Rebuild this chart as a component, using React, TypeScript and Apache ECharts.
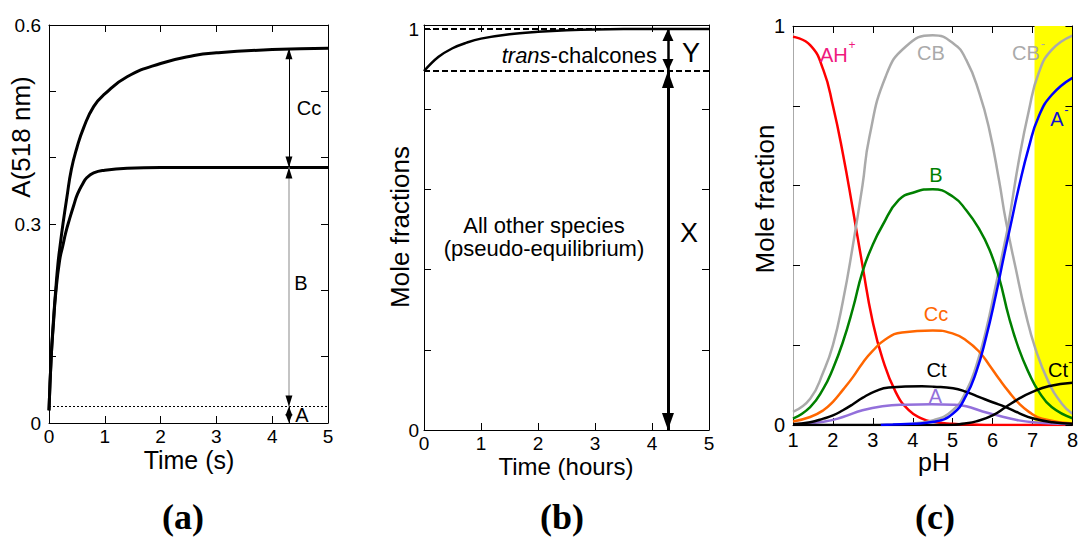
import React, { useEffect, useRef } from 'react';
import * as echarts from 'echarts';

const FONT = "'Liberation Sans', Arial, Helvetica, sans-serif";
const SERIF = "'Liberation Serif', 'Times New Roman', serif";

// ---------- Panel (a): absorbance at 518 nm vs time (s) ----------
const A_TIME_UPPER = [0, 0.04, 0.08, 0.12, 0.16, 0.2, 0.25, 0.32, 0.4, 0.5, 0.62, 0.8, 1.0, 1.4, 2.0, 2.6, 3.0, 4.0, 5.0];
const A_UPPER = [0.019, 0.1, 0.155, 0.2, 0.24, 0.268, 0.3, 0.34, 0.382, 0.415, 0.445, 0.477, 0.496, 0.522, 0.542, 0.554, 0.558, 0.563, 0.565];
const A_TIME_LOWER = [0, 0.04, 0.08, 0.12, 0.19, 0.25, 0.3, 0.37, 0.45, 0.51, 0.6, 0.68, 0.8, 1.0, 1.4, 2, 3, 4, 5];
const A_LOWER = [0.019, 0.1, 0.15, 0.195, 0.245, 0.268, 0.287, 0.308, 0.33, 0.345, 0.36, 0.37, 0.377, 0.381, 0.384, 0.385, 0.385, 0.385, 0.385];
const A_LEVEL_CC = 0.565;
const A_LEVEL_B = 0.385;
const A_LEVEL_A = 0.025;
const A_ARROW_T = 4.3;
const A_Y_LABELS = [0, 0.3, 0.6];

// ---------- Panel (b): mole fractions vs time (hours) ----------
const B_TIME = [0, 0.25, 0.5, 0.75, 1, 1.5, 2, 2.5, 3, 4, 5];
const B_FRACTION = [0.895, 0.93, 0.952, 0.966, 0.976, 0.987, 0.993, 0.997, 0.999, 1, 1];
const B_LEVEL_TOP = 1;
const B_LEVEL_PSEUDO = 0.895;
const B_ARROW_T = 4.28;
const B_Y_LABELS = [0, 1];

// ---------- Panel (c): mole fraction vs pH ----------
const C_AH = [[1, 0.973], [1.43, 0.952], [1.76, 0.89], [2.0, 0.8], [2.25, 0.68], [2.5, 0.54], [2.74, 0.4], [2.99, 0.262], [3.24, 0.167], [3.57, 0.083], [3.9, 0.037], [4.23, 0.016], [4.5, 0.008], [5.0, 0.003], [5.5, 0.001], [6, 0], [8, 0]];
const C_CB = [[1, 0.033], [1.43, 0.066], [1.76, 0.133], [2.0, 0.2], [2.25, 0.31], [2.5, 0.45], [2.74, 0.6], [2.91, 0.72], [3.32, 0.873], [3.82, 0.948], [4.5, 0.977], [5.01, 0.957], [5.34, 0.915], [5.67, 0.831], [5.92, 0.739], [6.16, 0.614], [6.33, 0.513], [6.58, 0.392], [6.82, 0.283], [7.07, 0.192], [7.4, 0.108], [7.73, 0.054], [8, 0.028]];
const C_B = [[1, 0.016], [1.43, 0.045], [1.76, 0.091], [2.0, 0.141], [2.25, 0.208], [2.5, 0.292], [2.74, 0.384], [2.99, 0.45], [3.24, 0.5], [3.65, 0.564], [4.06, 0.584], [4.5, 0.591], [5.01, 0.572], [5.34, 0.538], [5.67, 0.49], [5.92, 0.44], [6.16, 0.37], [6.41, 0.27], [6.66, 0.19], [6.91, 0.13], [7.15, 0.085], [7.48, 0.045], [8, 0.017]];
const C_CC = [[1, 0.009], [1.43, 0.02], [1.76, 0.037], [2.0, 0.058], [2.25, 0.088], [2.5, 0.12], [2.74, 0.155], [2.99, 0.185], [3.32, 0.215], [3.73, 0.232], [4.5, 0.237], [5.01, 0.229], [5.34, 0.212], [5.67, 0.183], [5.92, 0.15], [6.16, 0.116], [6.41, 0.083], [6.66, 0.054], [6.91, 0.033], [7.24, 0.016], [8, 0.004]];
const C_CT = [[1, 0.002], [1.43, 0.007], [1.76, 0.016], [2.0, 0.024], [2.25, 0.037], [2.5, 0.052], [2.74, 0.068], [3.07, 0.085], [3.4, 0.094], [4.23, 0.097], [4.52, 0.096], [5.01, 0.092], [5.34, 0.083], [5.67, 0.07], [6.0, 0.057], [6.33, 0.045], [6.66, 0.03], [7.0, 0.017], [7.5, 0.007], [8, 0.003]];
const C_A = [[1, 0.001], [1.76, 0.008], [2.25, 0.02], [2.74, 0.037], [3.24, 0.047], [3.82, 0.051], [4.47, 0.052], [5.01, 0.051], [5.34, 0.047], [5.75, 0.034], [6.16, 0.023], [6.58, 0.013], [7.0, 0.007], [8, 0.002]];
const C_A_MINUS = [[3.2, 0], [3.5, 0.001], [4.0, 0.003], [4.52, 0.008], [5.01, 0.029], [5.34, 0.074], [5.59, 0.133], [5.83, 0.217], [6.08, 0.325], [6.29, 0.426], [6.45, 0.5], [6.66, 0.597], [6.91, 0.697], [7.15, 0.772], [7.48, 0.827], [8, 0.87]];
const C_CB_MINUS = [[4.0, 0.004], [4.52, 0.012], [5.01, 0.038], [5.34, 0.085], [5.59, 0.148], [5.83, 0.235], [6.08, 0.35], [6.29, 0.45], [6.39, 0.5], [6.66, 0.664], [6.91, 0.789], [7.15, 0.881], [7.48, 0.94], [8, 0.976]];
const C_CT_MINUS = [[1, 0], [4.9, 0], [5.3, 0.004], [5.59, 0.009], [6.0, 0.024], [6.33, 0.045], [6.66, 0.066], [7.0, 0.083], [7.4, 0.097], [8, 0.106]];
const C_YELLOW_RANGE = [7.05, 8];
const C_Y_LABELS = [0, 1];

const zip = (xs: number[], ys: number[]) => xs.map((x, i) => [x, ys[i]]);

const labelFilter = (list: number[]) => (v: number) => {
  const hit = list.find((l) => Math.abs(l - v) < 1e-6);
  return hit === undefined ? '' : String(hit);
};

function xAxisPair(gridIndex: number, min: number, max: number, interval: number, fontSize: number, margin: number) {
  const base = {
    type: 'value', gridIndex, min, max, interval,
    splitLine: { show: false },
    axisLine: { show: true, onZero: false, lineStyle: { color: '#000', width: 1 } },
    axisTick: { show: true, inside: true, length: 7, lineStyle: { color: '#000', width: 1 } },
  };
  return [
    { ...base, position: 'bottom', axisLabel: { show: true, fontSize, fontFamily: FONT, color: '#000', margin } },
    { ...base, position: 'top', axisLabel: { show: false } },
  ];
}

function yAxisPair(gridIndex: number, min: number, max: number, interval: number, fontSize: number, margin: number, labels: number[], leftColor = '#000', rightZ = 0) {
  const base = {
    type: 'value', gridIndex, min, max, interval,
    splitLine: { show: false },
    axisTick: { show: true, inside: true, length: 7, lineStyle: { color: '#000', width: 1 } },
  };
  return [
    {
      ...base, position: 'left',
      axisLine: { show: true, onZero: false, lineStyle: { color: leftColor, width: 1 } },
      axisLabel: { show: true, fontSize, fontFamily: FONT, color: '#000', margin, formatter: labelFilter(labels) },
    },
    {
      ...base, position: 'right', z: rightZ,
      axisLine: { show: true, onZero: false, lineStyle: { color: '#000', width: 1 } },
      axisLabel: { show: false },
    },
  ];
}

function curve(xi: number, data: number[][], color: string, width: number, smooth: number | boolean = 0.5) {
  return {
    type: 'line', xAxisIndex: xi, yAxisIndex: xi, data, symbol: 'none', showSymbol: false,
    smooth, lineStyle: { color, width }, silent: true, animation: false, z: 3,
  };
}

function seg(x1: number, y1: number, x2: number, y2: number, color: string, width: number, s1: string, s2: string, size: number[], type: any = 'solid') {
  const ls = { color, width, type };
  return [
    { coord: [x1, y1], symbol: s1, symbolSize: size, symbolOffset: [0, size[1] / 2], lineStyle: ls },
    { coord: [x2, y2], symbol: s2, symbolSize: size, symbolOffset: [0, size[1] / 2], lineStyle: ls },
  ];
}

function txt(text: string, x: number, y: number, size: number, color = '#000', align = 'center', rotate = 0, extra: any = {}) {
  return {
    type: 'text', x, y, rotation: rotate, silent: true, z: 10,
    style: { text, fill: color, fontSize: size, fontFamily: FONT, align, verticalAlign: 'middle', ...extra },
  };
}

function buildOption() {
  const markBase = { silent: true, animation: false, label: { show: false }, emphasis: { disabled: true }, symbol: ['none', 'none'] };
  const aSmall = [7, 11];
  return {
    animation: false,
    backgroundColor: '#fff',
    grid: [
      { left: 49, top: 25, width: 279, height: 398 },
      { left: 424, top: 25, width: 285, height: 405 },
      { left: 793, top: 26, width: 283, height: 399 },
    ],
    xAxis: [
      ...xAxisPair(0, 0, 5, 1, 19, 4),
      ...xAxisPair(1, 0, 5, 1, 19, 4),
      ...xAxisPair(2, 1, 8, 1, 20, 5),
    ],
    yAxis: [
      ...yAxisPair(0, 0, 0.6, 0.1, 19, 8, A_Y_LABELS),
      ...yAxisPair(1, 0, 1.01, 0.2, 19, 5, B_Y_LABELS),
      ...yAxisPair(2, 0, 1, 0.2, 20, 8, C_Y_LABELS, '#aaaaaa', 4),
    ],
    series: [
      // panel a
      {
        ...curve(0, zip(A_TIME_UPPER, A_UPPER), '#000', 3, 0.5),
        markLine: {
          ...markBase,
          data: [
            seg(0, A_LEVEL_A, 5, A_LEVEL_A, '#000', 1, 'none', 'none', [1, 1], [2, 2]),
            seg(A_ARROW_T, A_LEVEL_CC, A_ARROW_T, A_LEVEL_B, '#000', 1, 'triangle', 'triangle', aSmall),
            seg(A_ARROW_T, A_LEVEL_B, A_ARROW_T, A_LEVEL_A, '#b0b0b0', 1.5, 'none', 'none', [1, 1]),
            seg(A_ARROW_T, 0.2, A_ARROW_T, A_LEVEL_B, '#000', 0, 'none', 'triangle', aSmall),
            seg(A_ARROW_T, 0.2, A_ARROW_T, A_LEVEL_A, '#000', 0, 'none', 'triangle', aSmall),
            seg(A_ARROW_T, A_LEVEL_A, A_ARROW_T, 0, '#000', 1, 'triangle', 'triangle', [7, 9]),
          ],
        },
      },
      curve(0, zip(A_TIME_LOWER, A_LOWER), '#000', 3, 0.5),
      // panel b
      {
        ...curve(2, zip(B_TIME, B_FRACTION), '#000', 2.5, 0.4),
        markLine: {
          ...markBase,
          data: [
            seg(0, B_LEVEL_TOP, 5, B_LEVEL_TOP, '#000', 2, 'none', 'none', [1, 1], [6, 3]),
            seg(0, B_LEVEL_PSEUDO, 5, B_LEVEL_PSEUDO, '#000', 2, 'none', 'none', [1, 1], [6, 3]),
            seg(B_ARROW_T, B_LEVEL_TOP, B_ARROW_T, B_LEVEL_PSEUDO, '#000', 2.5, 'triangle', 'triangle', [11, 12]),
            seg(B_ARROW_T, B_LEVEL_PSEUDO, B_ARROW_T, 0, '#000', 3, 'triangle', 'triangle', [12, 17]),
          ],
        },
      },
      // panel c
      {
        ...curve(4, C_AH, '#ff0000', 2.5),
        markArea: {
          silent: true,
          itemStyle: { color: '#ffff00' },
          data: [[{ xAxis: C_YELLOW_RANGE[0] }, { xAxis: C_YELLOW_RANGE[1] }]],
        },
      },
      curve(4, C_CB, '#aaaaaa', 2.5),
      curve(4, C_CB_MINUS, '#aaaaaa', 2.5),
      curve(4, C_B, '#008000', 2.5),
      curve(4, C_CC, '#ff6600', 2.5),
      curve(4, C_A, '#9370db', 2.5),
      curve(4, C_CT, '#000000', 2.5),
      curve(4, C_CT_MINUS, '#000000', 2.5),
      curve(4, C_A_MINUS, '#0000ff', 2.5),
    ],
    graphic: [
      // panel a
      txt('A(518 nm)', 21, 137, 26, '#000', 'center', Math.PI / 2),
      txt('Time (s)', 189, 460, 25),
      txt('Cc', 309, 108, 20),
      txt('B', 301, 283, 20),
      txt('A', 302, 415, 20),
      // panel b
      txt('Mole fractions', 400, 227, 26, '#000', 'center', Math.PI / 2),
      txt('Time (hours)', 566, 466, 24),
      {
        type: 'text', x: 657, y: 55, silent: true, z: 10,
        style: {
          text: '{i|trans}{n|-chalcones}', fill: '#000', fontSize: 22, fontFamily: FONT, align: 'right', verticalAlign: 'middle',
          rich: {
            i: { fontStyle: 'italic', fontSize: 22, fontFamily: FONT, fill: '#000' },
            n: { fontSize: 22, fontFamily: FONT, fill: '#000' },
          },
        },
      },
      txt('All other species', 544, 225, 22),
      txt('(pseudo-equilibrium)', 544, 248, 22),
      txt('Y', 691, 53, 27),
      txt('X', 689, 233, 27),
      // panel c
      txt('Mole fraction', 765, 199, 26, '#000', 'center', Math.PI / 2),
      txt('pH', 934, 462, 25),
      txt('AH', 820, 55, 20, '#f0197d', 'left'),
      txt('+', 852, 45, 12, '#f0197d'),
      txt('CB', 931, 53, 20, '#aaaaaa'),
      txt('CB', 1026, 53, 20, '#aaaaaa'),
      txt('-', 1043, 43, 13, '#aaaaaa'),
      txt('A', 1057, 119, 20, '#1010d0'),
      txt('-', 1066.5, 109, 13, '#1010d0'),
      txt('B', 936, 175, 20, '#008000'),
      txt('Cc', 936, 314, 20, '#ff6600'),
      txt('Ct', 936.5, 370, 20, '#000'),
      txt('A', 935.5, 396, 20, '#9370db'),
      txt('Ct', 1058, 369.5, 20, '#000'),
      txt('-', 1070.5, 361, 13, '#000'),
      // panel letters
      txt('(a)', 183, 517, 36, '#000', 'center', 0, { fontFamily: SERIF, fontWeight: 'bold' }),
      txt('(b)', 562, 517, 36, '#000', 'center', 0, { fontFamily: SERIF, fontWeight: 'bold' }),
      txt('(c)', 935, 517, 36, '#000', 'center', 0, { fontFamily: SERIF, fontWeight: 'bold' }),
    ],
  };
}

export default function App() {
  const ref = useRef<HTMLDivElement>(null);
  useEffect(() => {
    if (!ref.current) return;
    const chart = echarts.init(ref.current, null, { renderer: 'svg' });
    chart.setOption(buildOption() as any);
    return () => chart.dispose();
  }, []);
  return (
    <div
      ref={ref}
      style={{ position: 'absolute', left: 0, top: 0, width: 1081, height: 550, background: '#fff' }}
    />
  );
}
